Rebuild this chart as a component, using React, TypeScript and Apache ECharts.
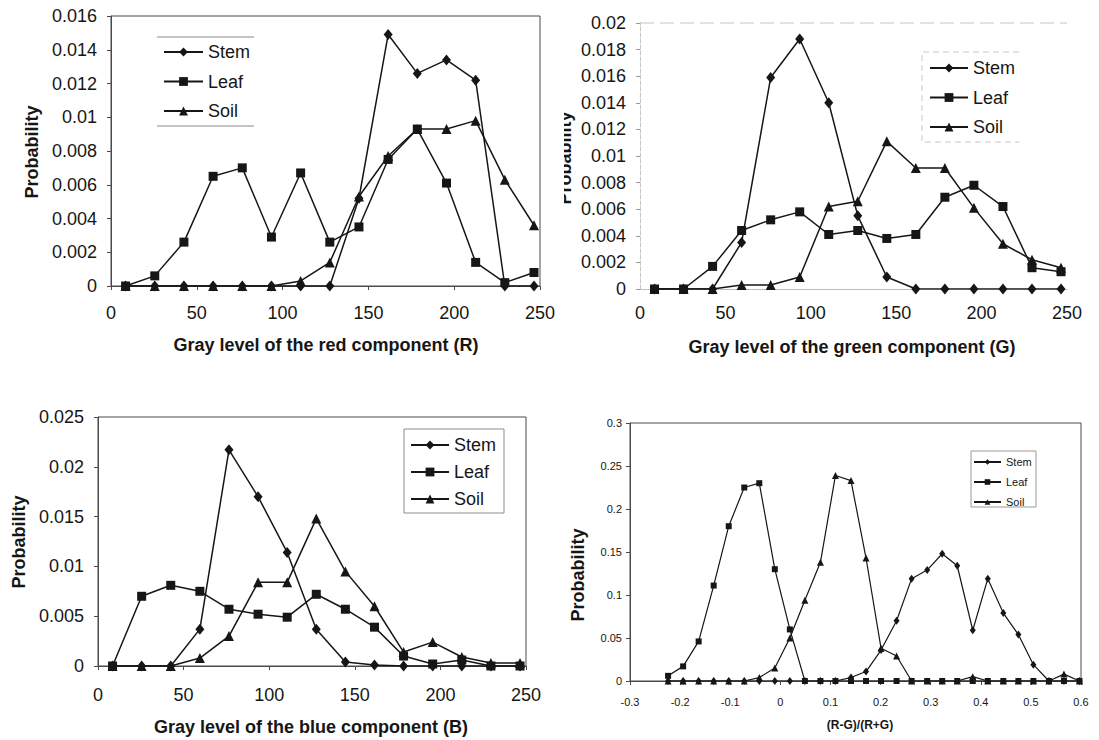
import React, { useEffect, useRef } from 'react';
import * as echarts from 'echarts';

// ---------- data ----------
const grayLevels = [8.5, 25.5, 42.5, 59.5, 76.5, 93.5, 110.5, 127.5, 144.5, 161.5, 178.5, 195.5, 212.5, 229.5, 246.5];

const redStem = [0, 0, 0, 0, 0, 0, 0, 0, 0.0052, 0.0149, 0.0126, 0.0134, 0.0122, 0, 0];
const redLeaf = [0, 0.0006, 0.0026, 0.0065, 0.007, 0.0029, 0.0067, 0.0026, 0.0035, 0.0075, 0.0093, 0.0061, 0.0014, 0.0002, 0.0008];
const redSoil = [0, 0, 0, 0, 0, 0, 0.0003, 0.0014, 0.0053, 0.0077, 0.0093, 0.0093, 0.0098, 0.0063, 0.0036];

const greenStem = [0, 0, 0, 0.0035, 0.0159, 0.0188, 0.014, 0.0055, 0.0009, 0, 0, 0, 0, 0, 0];
const greenLeaf = [0, 0, 0.0017, 0.0044, 0.0052, 0.0058, 0.0041, 0.0044, 0.0038, 0.0041, 0.0069, 0.0078, 0.0062, 0.0016, 0.0013];
const greenSoil = [0, 0, 0, 0.0003, 0.0003, 0.0009, 0.0062, 0.0066, 0.0111, 0.0091, 0.0091, 0.0061, 0.0034, 0.0022, 0.0016];

const blueStem = [0, 0, 0, 0.0037, 0.0217, 0.017, 0.0114, 0.0037, 0.0004, 0.0001, 0, 0, 0, 0, 0];
const blueLeaf = [0, 0.007, 0.0081, 0.0075, 0.0057, 0.0052, 0.0049, 0.0072, 0.0057, 0.0039, 0.001, 0.0002, 0.0006, 0, 0];
const blueSoil = [0, 0, 0, 0.0008, 0.003, 0.0084, 0.0084, 0.0148, 0.0095, 0.006, 0.0014, 0.0024, 0.0009, 0.0003, 0.0003];

const ratioLevels = [-0.224, -0.194, -0.163, -0.133, -0.103, -0.072, -0.042, -0.011, 0.019, 0.049, 0.08, 0.11, 0.141, 0.171, 0.201, 0.232, 0.262, 0.293, 0.323, 0.353, 0.384, 0.414, 0.445, 0.475, 0.505, 0.536, 0.566, 0.597];
const ratioStem = [0, 0, 0, 0, 0, 0, 0, 0, 0, 0, 0, 0, 0.004, 0.011, 0.036, 0.07, 0.119, 0.129, 0.148, 0.134, 0.059, 0.119, 0.079, 0.054, 0.019, 0, 0, 0];
const ratioLeaf = [0.006, 0.017, 0.046, 0.111, 0.18, 0.225, 0.23, 0.13, 0.06, 0, 0, 0, 0, 0, 0, 0, 0, 0, 0, 0, 0, 0, 0, 0, 0, 0, 0, 0];
const ratioSoil = [0, 0, 0, 0, 0, 0, 0.004, 0.015, 0.05, 0.094, 0.138, 0.239, 0.233, 0.143, 0.038, 0.029, 0, 0, 0, 0, 0.005, 0, 0, 0, 0, 0, 0.008, 0];

const seriesNames = ['Stem', 'Leaf', 'Soil'];
const xTitles = [
  'Gray level of the red component (R)',
  'Gray level of the green component (G)',
  'Gray level of the blue component (B)',
  '(R-G)/(R+G)',
];
const yTitle = 'Probability';

// ---------- styling ----------
const FONT = '"Liberation Sans", Arial, Helvetica, sans-serif';
const INK = '#161616';
const FRAME = '#4a4a4a';

const pairs = (xs: number[], ys: number[]) => xs.map((x, i) => [x, ys[i]]);

function lineSeries(name: string, symbol: string, size: any, xs: number[], ys: number[], idx: number, lw: number) {
  return {
    type: 'line',
    name,
    xAxisIndex: idx,
    yAxisIndex: idx,
    data: pairs(xs, ys),
    symbol,
    symbolSize: size,
    showSymbol: true,
    lineStyle: { color: INK, width: lw },
    itemStyle: { color: INK },
    emphasis: { disabled: true },
    silent: true,
  };
}

function xAxisCfg(idx: number, min: number, max: number, interval: number, fs: number, margin: number, line: any, tick: boolean) {
  return {
    type: 'value',
    gridIndex: idx,
    min,
    max,
    interval,
    axisLine: { show: true, onZero: false, lineStyle: line },
    axisTick: { show: tick, length: 4, lineStyle: { color: FRAME } },
    splitLine: { show: false },
    axisLabel: { fontSize: fs, fontFamily: FONT, color: INK, margin },
  };
}

function yAxisCfg(idx: number, min: number, max: number, interval: number, fs: number, margin: number, line: any, tickColor: string) {
  return {
    type: 'value',
    gridIndex: idx,
    min,
    max,
    interval,
    axisLine: { show: true, onZero: false, lineStyle: line },
    axisTick: { show: true, length: 4, lineStyle: { color: tickColor } },
    splitLine: { show: false },
    axisLabel: { fontSize: fs, fontFamily: FONT, color: INK, margin },
  };
}

function legendCfg(left: number, top: number, w: number, h: number, gap: number, fs: number) {
  return {
    show: true,
    orient: 'vertical',
    left,
    top,
    padding: 0,
    itemWidth: w,
    itemHeight: h,
    itemGap: gap,
    selectedMode: false,
    data: seriesNames,
    textStyle: { fontSize: fs, fontFamily: FONT, color: INK },
  };
}

function titleText(text: string, x: number, y: number, fs: number, rot = 0) {
  return {
    type: 'text',
    x,
    y,
    rotation: rot,
    silent: true,
    style: {
      text,
      fontSize: fs,
      fontWeight: 'bold',
      fontFamily: FONT,
      fill: INK,
      align: 'center',
      verticalAlign: 'middle',
    },
  };
}

export default function App() {
  const ref = useRef<HTMLDivElement>(null);

  useEffect(() => {
    if (!ref.current) return;
    const chart = echarts.init(ref.current, undefined, { renderer: 'svg' });
    const solidFrame = { color: FRAME, width: 1 };

    const option: any = {
      animation: false,
      backgroundColor: '#ffffff',
      grid: [
        { left: 111, top: 16, width: 429, height: 270, show: true, borderColor: FRAME, borderWidth: 1, backgroundColor: 'transparent' },
        { left: 640, top: 23, width: 427, height: 266, show: false },
        { left: 98, top: 417, width: 428, height: 249, show: true, borderColor: FRAME, borderWidth: 1, backgroundColor: 'transparent' },
        { left: 630, top: 423, width: 451, height: 258, show: true, borderColor: FRAME, borderWidth: 1, backgroundColor: 'transparent' },
      ],
      xAxis: [
        xAxisCfg(0, 0, 250, 50, 18, 18, solidFrame, true),
        xAxisCfg(1, 0, 250, 50, 18, 15, { color: '#b0b0b0', width: 1, type: 'dotted' }, false),
        xAxisCfg(2, 0, 250, 50, 18, 20, solidFrame, true),
        xAxisCfg(3, -0.3, 0.6, 0.1, 11, 15, solidFrame, true),
      ],
      yAxis: [
        yAxisCfg(0, 0, 0.016, 0.002, 18, 14, solidFrame, FRAME),
        yAxisCfg(1, 0, 0.02, 0.002, 18, 14, { color: '#c4c4c4', width: 1, type: 'dashed' }, '#9a9a9a'),
        yAxisCfg(2, 0, 0.025, 0.005, 18, 14, solidFrame, FRAME),
        yAxisCfg(3, 0, 0.3, 0.05, 11, 8, solidFrame, FRAME),
      ],
      legend: [
        legendCfg(163, 43, 39, 11, 11.5, 18),
        legendCfg(929, 59, 38, 11, 11.5, 18),
        legendCfg(410, 436, 38, 11, 9, 18),
        legendCfg(973, 456.5, 27, 7, 9, 11),
      ],
      series: [
        lineSeries('Stem', 'diamond', [9, 11], grayLevels, redStem, 0, 1.5),
        lineSeries('Leaf', 'rect', 9, grayLevels, redLeaf, 0, 1.5),
        lineSeries('Soil', 'triangle', 10, grayLevels, redSoil, 0, 1.5),
        lineSeries('Stem', 'diamond', [9, 11], grayLevels, greenStem, 1, 1.5),
        lineSeries('Leaf', 'rect', 9, grayLevels, greenLeaf, 1, 1.5),
        lineSeries('Soil', 'triangle', 10, grayLevels, greenSoil, 1, 1.5),
        lineSeries('Stem', 'diamond', [9, 11], grayLevels, blueStem, 2, 1.5),
        lineSeries('Leaf', 'rect', 9, grayLevels, blueLeaf, 2, 1.5),
        lineSeries('Soil', 'triangle', 10, grayLevels, blueSoil, 2, 1.5),
        lineSeries('Stem', 'diamond', [6, 8], ratioLevels, ratioStem, 3, 1.2),
        lineSeries('Leaf', 'rect', 6, ratioLevels, ratioLeaf, 3, 1.2),
        lineSeries('Soil', 'triangle', 7, ratioLevels, ratioSoil, 3, 1.2),
      ],
      graphic: [
        // axis titles
        titleText(xTitles[0], 326, 345, 18),
        titleText(xTitles[1], 852, 347, 18),
        titleText(xTitles[2], 311, 727, 18),
        titleText(xTitles[3], 860, 725, 12),
        titleText(yTitle, 32, 152, 18, Math.PI / 2),
        titleText(yTitle, 19, 542, 18, Math.PI / 2),
        titleText(yTitle, 578, 575, 18, Math.PI / 2),
        titleText(yTitle, 565, 158, 18, Math.PI / 2),
        // the green panel's title is cut off in the reference
        { type: 'rect', silent: true, shape: { x: 545, y: 95, width: 19, height: 125 }, style: { fill: '#ffffff' } },
        // panel 2 faint top border
        { type: 'line', silent: true, shape: { x1: 640, y1: 23, x2: 1067, y2: 23 }, style: { stroke: '#c4c4c4', lineWidth: 1, lineDash: [14, 6] } },
        // legend frames
        { type: 'line', silent: true, shape: { x1: 157, y1: 37, x2: 254, y2: 37 }, style: { stroke: '#8a8a8a', lineWidth: 1 } },
        { type: 'line', silent: true, shape: { x1: 157, y1: 126, x2: 254, y2: 126 }, style: { stroke: '#8a8a8a', lineWidth: 1 } },
        { type: 'polyline', silent: true, shape: { points: [[1019, 52], [922, 52], [922, 142], [1019, 142]] }, style: { stroke: '#c8c8c8', fill: 'none', lineWidth: 1, lineDash: [6, 4] } },
        { type: 'rect', silent: true, shape: { x: 404, y: 429, width: 100, height: 84 }, style: { stroke: '#8c8c8c', fill: 'none', lineWidth: 1 } },
        { type: 'rect', silent: true, shape: { x: 971, y: 451, width: 65, height: 56 }, style: { stroke: '#9a9a9a', fill: 'none', lineWidth: 1 } },
      ],
    };

    chart.setOption(option);
    return () => {
      chart.dispose();
    };
  }, []);

  return (
    <div
      ref={ref}
      style={{ position: 'absolute', left: 0, top: 0, width: 1099, height: 740, background: '#ffffff' }}
    />
  );
}
